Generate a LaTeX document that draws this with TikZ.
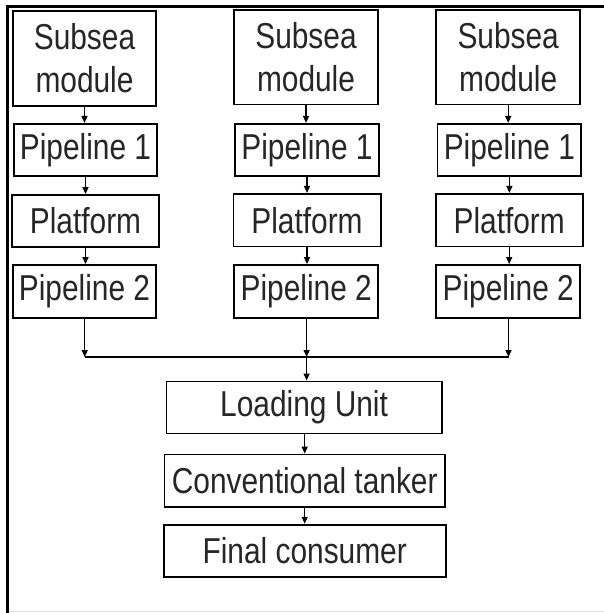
\documentclass[tikz,border=0pt]{standalone}
\usepackage{fontspec}
\setmainfont{Liberation Sans}[FakeStretch=0.83]
\usetikzlibrary{arrows.meta}

\tikzset{
  box/.style={draw=black, line width=1.8pt, inner sep=0pt, align=center,
    font=\fontsize{36}{42.4}\selectfont, text=black!85},
  flow/.style={line width=1.4pt, -{Triangle[length=7pt,width=6pt]}},
  busline/.style={line width=1.4pt},
  edgerule/.style={line width=2.7pt, line cap=rect},
}

\begin{document}
\begin{tikzpicture}[x=1pt, y=-1pt]
  \useasboundingbox (0,0) rectangle (604,613);

  % outer frame: top and left rules, faint bottom rule
  \draw[edgerule] (7.7,613) -- (7.7,6.5) -- (604,6.5);
  \draw[black!12, line width=1.2pt] (9,611.5) -- (604,611.5);

  % three production chains
  \node[box, minimum width=143.7pt, minimum height=95pt] (s1) at (84.5,58.3) {Subsea\\module};
  \node[box, minimum width=143.3pt, minimum height=52.3pt] (p11) at (85.5,150) {Pipeline 1};
  \node[box, minimum width=146.4pt, minimum height=52pt] (f1) at (85.5,221) {Platform};
  \node[box, minimum width=143.7pt, minimum height=52.8pt] (p21) at (84.5,291.4) {Pipeline 2};

  \node[box, minimum width=143.7pt, minimum height=94.8pt] (s2) at (306,57) {Subsea\\module};
  \node[box, minimum width=143.3pt, minimum height=52.3pt] (p12) at (307,150) {Pipeline 1};
  \node[box, minimum width=147.2pt, minimum height=52.7pt] (f2) at (307,220.2) {Platform};
  \node[box, minimum width=144.1pt, minimum height=52.8pt] (p22) at (306.2,291.4) {Pipeline 2};

  \node[box, minimum width=143.7pt, minimum height=94.8pt] (s3) at (508.2,57) {Subsea\\module};
  \node[box, minimum width=143.7pt, minimum height=52.3pt] (p13) at (509.4,150) {Pipeline 1};
  \node[box, minimum width=147.1pt, minimum height=52.7pt] (f3) at (509.2,220.2) {Platform};
  \node[box, minimum width=143.7pt, minimum height=52.8pt] (p23) at (508.2,291.4) {Pipeline 2};

  % common chain
  \node[box, minimum width=275.4pt, minimum height=52pt] (lu) at (304.1,407.4) {Loading Unit};
  \node[box, minimum width=280.4pt, minimum height=52.4pt] (ct) at (304.7,480.7) {Conventional tanker};
  \node[box, minimum width=282pt, minimum height=52.3pt] (fc) at (304.7,550.8) {Final consumer};

  % merge points on the collecting line
  \coordinate (m1) at (84.7,357);
  \coordinate (m2) at (306.6,357);
  \coordinate (m3) at (508.5,357);

  % arrows inside each chain
  \foreach \a/\b in {s1/p11, p11/f1, f1/p21, s2/p12, p12/f2, f2/p22, s3/p13, p13/f3, f3/p23}
    \draw[flow] (\a.south) -- (\a.south |- \b.north);

  % collecting line
  \draw[flow] (p21.south -| m1) -- (m1);
  \draw[flow] (p22.south -| m2) -- (m2);
  \draw[flow] (p23.south -| m3) -- (m3);
  \draw[busline] (m1) -- (m3);
  \draw[flow] (m2) -- (m2 |- lu.north);

  \draw[flow] (ct.north |- lu.south) -- (ct.north);
  \draw[flow] (ct.south) -- (fc.north);
\end{tikzpicture}
\end{document}
